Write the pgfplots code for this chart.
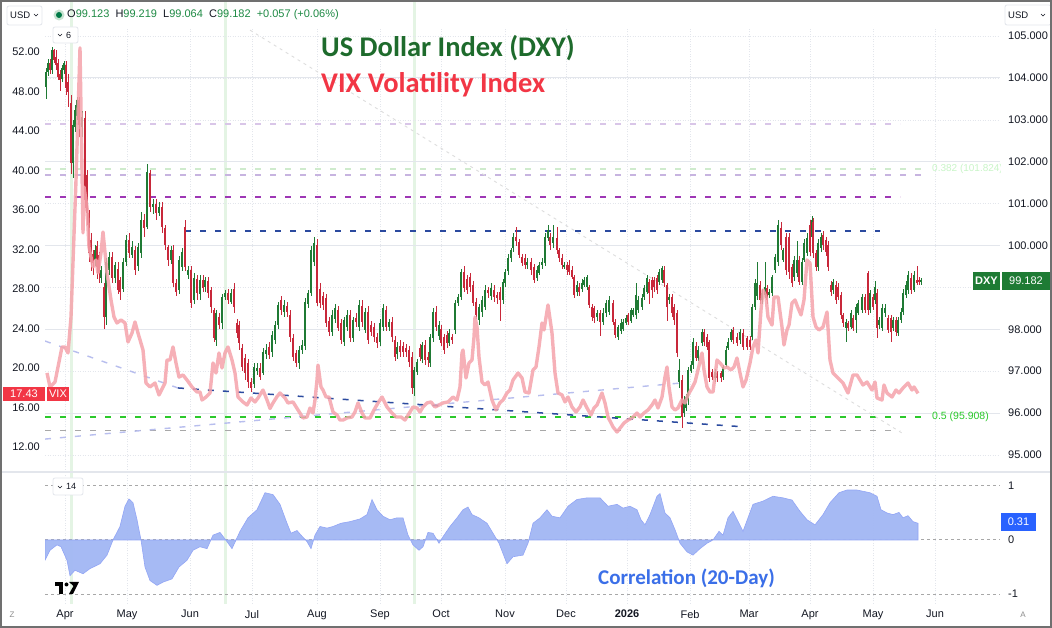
\documentclass[border=0pt]{standalone}
\usepackage{fontspec}
\setmainfont{Liberation Sans}
\newfontfamily\titlefont{Carlito}
\usepackage{pgfplots}
\usepackage{pgfplotstable}
\pgfplotsset{compat=1.18}
\definecolor{tvtext}{HTML}{131722}
\definecolor{upc}{HTML}{1F7A34}
\definecolor{dnc}{HTML}{C8283A}
\definecolor{vixc}{HTML}{F5A3AB}
\definecolor{gridc}{HTML}{E3E6EC}
\definecolor{gbandc}{HTML}{E4F4E4}
\definecolor{titleg}{HTML}{1E6B2C}
\definecolor{titler}{HTML}{F23645}
\definecolor{corrfill}{HTML}{A2B7F4}
\definecolor{corrtxt}{HTML}{3B6FE8}
\definecolor{blueline}{HTML}{2B4A9F}
\definecolor{purpline}{HTML}{9E37B5}
\definecolor{lpurp}{HTML}{D9C6E8}
\definecolor{lpurp2}{HTML}{C7B4E0}
\definecolor{lgreen}{HTML}{CFEBCD}
\definecolor{greenline}{HTML}{2BC92B}
\definecolor{grayline}{HTML}{A8A8A8}
\definecolor{lavline}{HTML}{B8BEEE}
\definecolor{faintline}{HTML}{DDDDDD}
\definecolor{tvblue}{HTML}{2962FF}
\definecolor{tvgreenbox}{HTML}{1E7B34}
\definecolor{tvredbox}{HTML}{F23645}
\definecolor{ohlcg}{HTML}{1E8A44}
\definecolor{framec}{HTML}{707070}

\pgfplotstableread{
x o h l c
46 103.78 104.24 103.50 104.14
48 104.14 104.45 104.05 104.36
50 104.36 104.45 104.10 104.19
52 104.20 104.75 104.10 104.67
54 104.67 104.70 104.35 104.43
56 104.50 104.67 104.20 104.31
58 104.35 104.45 103.95 104.02
60 104.10 104.20 103.70 103.95
62 103.98 104.30 103.90 104.24
64 104.20 104.40 104.10 104.36
66 104.31 104.40 103.60 103.76
68 103.90 104.10 103.30 103.66
71 103.40 103.60 101.70 101.97
73 101.97 103.00 101.60 102.88
75 102.83 103.35 102.70 103.23
77 103.10 103.55 103.00 103.47
79 103.47 103.55 102.60 102.88
82 102.83 103.20 102.60 103.07
85 103.04 103.20 100.90 101.09
87 101.68 101.80 100.50 100.78
89 100.78 100.85 99.60 99.82
91 100.13 100.30 99.40 99.61
93 99.80 99.90 99.30 99.58
95 99.65 100.00 99.50 99.89
97 100.00 100.10 99.20 99.49
99 99.77 99.85 99.10 99.34
101 99.22 99.50 99.10 99.42
104 99.01 99.10 98.00 98.29
106 98.30 99.70 98.10 99.61
109 99.42 99.85 99.30 99.73
112 99.73 99.85 99.10 99.22
115 99.22 99.60 99.10 99.53
118 99.45 99.60 98.85 98.94
120 99.18 99.25 98.70 98.89
123 98.95 99.70 98.90 99.61
126 99.60 100.25 99.50 100.13
129 100.13 100.30 99.70 99.82
132 99.77 100.10 99.70 99.96
135 99.90 100.00 99.30 99.42
138 99.50 100.05 99.40 99.96
141 99.82 100.80 99.70 100.61
144 100.61 100.75 100.20 100.42
147 100.45 101.95 100.40 101.75
150 101.73 101.80 100.80 100.92
153 100.92 101.10 100.75 101.00
156 101.00 101.10 100.60 100.78
159 100.78 101.05 100.70 100.92
162 100.92 101.05 100.30 100.44
165 100.42 100.50 99.90 100.01
168 99.96 100.00 99.50 99.65
171 99.65 100.00 99.55 99.89
173 99.89 100.00 99.00 99.11
176 99.11 99.20 98.80 98.89
179 98.94 99.75 98.85 99.65
182 99.49 99.95 99.40 99.84
185 100.45 100.60 99.40 99.49
188 99.30 99.50 99.20 99.42
191 99.42 99.50 98.50 98.63
194 98.70 99.35 98.60 99.22
197 99.20 99.30 98.70 98.87
200 98.85 99.30 98.70 99.18
203 99.18 99.30 98.90 98.99
205 99.00 99.25 98.90 99.18
208 99.15 99.25 98.75 98.87
211 98.94 99.00 98.40 98.53
214 98.45 98.50 97.70 97.79
216 97.74 98.45 97.60 98.39
219 98.30 98.40 98.00 98.10
222 98.15 98.85 98.00 98.77
225 98.77 98.95 98.70 98.87
228 98.87 98.95 98.60 98.70
231 98.65 98.95 98.60 98.87
234 98.95 99.10 98.40 98.53
237 98.15 98.25 97.80 97.91
239 98.10 98.20 97.50 97.67
242 97.55 97.65 97.00 97.10
245 97.32 97.40 96.80 96.96
248 97.20 97.30 96.60 96.74
251 96.74 96.85 96.50 96.60
254 96.70 97.20 96.60 97.10
257 97.00 97.20 96.90 97.08
260 97.08 97.20 96.80 96.87
263 96.96 97.55 96.90 97.46
266 97.40 97.65 97.30 97.51
269 97.58 97.70 97.30 97.39
272 97.45 97.95 97.35 97.86
275 97.74 98.20 97.65 98.10
278 98.10 98.65 98.00 98.58
281 98.70 98.80 98.35 98.46
284 98.41 98.70 98.30 98.58
287 98.55 98.65 98.30 98.41
290 98.34 98.45 97.70 97.82
293 97.79 97.90 97.25 97.34
296 97.43 97.50 97.10 97.20
299 97.20 97.60 97.05 97.51
302 97.50 97.75 97.40 97.63
305 97.60 98.75 97.50 98.65
308 98.60 98.95 98.50 98.87
311 98.87 100.00 98.80 99.89
314 99.60 100.20 99.50 100.06
317 100.00 100.15 98.55 98.63
320 98.95 99.10 98.50 98.63
323 98.80 98.90 98.45 98.58
326 98.75 98.85 98.05 98.15
329 98.20 98.30 97.85 97.94
332 97.94 98.45 97.85 98.34
335 98.25 98.60 98.15 98.50
338 98.45 98.55 97.95 98.03
341 98.15 98.25 97.65 97.74
344 97.70 98.30 97.60 98.22
347 98.05 98.45 97.95 98.34
350 98.34 98.45 97.70 97.79
353 97.80 98.30 97.70 98.22
356 98.27 98.40 98.05 98.17
359 98.05 98.70 97.95 98.58
362 98.55 98.70 98.05 98.17
365 97.98 98.50 97.90 98.41
368 98.41 98.55 97.65 97.74
371 98.10 98.20 97.85 97.94
374 98.05 98.15 97.70 97.82
377 97.82 97.90 97.55 97.67
380 97.70 98.25 97.60 98.15
383 98.05 98.60 97.95 98.51
386 98.45 98.55 97.95 98.05
389 98.05 98.25 97.95 98.17
392 98.17 98.30 97.70 97.82
395 97.74 97.85 97.25 97.34
397 97.40 97.70 97.30 97.58
400 97.60 97.75 97.35 97.46
403 97.60 97.70 97.35 97.45
406 97.55 97.65 97.35 97.46
409 97.50 97.60 97.10 97.22
412 97.34 97.45 96.45 96.60
414 96.60 97.10 96.40 97.03
417 96.98 97.30 96.90 97.22
420 97.55 97.65 97.25 97.34
422 97.30 97.70 97.20 97.63
425 97.63 97.75 97.15 97.27
428 97.35 97.45 97.10 97.27
430 97.20 97.90 97.10 97.82
433 97.80 98.50 97.70 98.41
436 98.41 98.55 97.95 98.05
439 97.85 98.20 97.75 98.10
441 98.00 98.10 97.60 97.67
444 97.82 97.90 97.40 97.51
447 97.86 97.95 97.55 97.67
449 97.67 98.00 97.60 97.91
452 97.82 97.90 97.65 97.74
455 97.98 98.70 97.90 98.63
458 98.63 98.85 98.55 98.77
461 98.77 99.45 98.70 99.37
464 99.37 99.50 98.90 98.99
467 99.20 99.30 98.85 98.94
470 99.25 99.35 98.90 99.01
473 99.06 99.15 98.55 98.63
476 98.65 98.75 98.25 98.34
479 98.22 98.60 98.10 98.53
482 98.41 98.80 98.30 98.70
485 98.53 99.05 98.45 98.94
488 98.94 99.00 98.75 98.87
491 98.80 99.10 98.70 98.99
494 98.95 99.05 98.65 98.77
497 98.82 98.90 98.60 98.75
500 98.90 99.00 98.20 98.70
503 98.70 99.20 98.60 99.13
505 99.10 99.45 99.00 99.37
508 99.40 99.80 99.30 99.70
511 99.70 99.95 99.60 99.89
513 99.94 100.30 99.85 100.20
516 100.20 100.45 100.00 100.10
519 100.08 100.15 99.70 99.77
522 99.73 99.80 99.50 99.58
525 99.70 99.80 99.45 99.53
527 99.53 99.70 99.45 99.61
531 99.61 99.70 99.30 99.42
534 99.49 99.55 99.10 99.18
537 99.22 99.50 99.15 99.42
539 99.35 99.60 99.30 99.53
542 99.53 99.70 99.45 99.61
545 99.58 100.30 99.50 100.20
548 100.18 100.50 100.10 100.37
550 100.20 100.30 99.90 100.01
553 100.06 100.50 99.95 100.20
557 100.18 100.45 99.80 99.89
559 99.89 99.95 99.60 99.70
562 99.70 99.80 99.45 99.53
564 99.50 99.60 99.45 99.53
567 99.53 99.60 99.30 99.42
569 99.53 99.65 99.30 99.37
572 99.42 99.50 99.20 99.25
574 99.25 99.30 98.75 98.82
577 98.89 99.15 98.80 99.06
579 99.01 99.10 98.80 98.89
582 98.95 99.20 98.90 99.11
584 99.06 99.25 99.00 99.18
587 99.01 99.30 98.95 99.25
589 99.00 99.05 98.50 98.58
592 98.53 98.60 98.20 98.29
594 98.50 98.55 98.15 98.27
597 98.29 98.45 98.20 98.39
600 98.39 98.45 97.85 98.17
603 98.17 98.50 98.10 98.39
606 98.39 98.70 98.30 98.63
609 98.41 98.80 98.35 98.70
613 98.63 98.70 98.10 98.17
615 98.17 98.25 97.80 97.86
618 97.82 98.10 97.75 98.05
621 97.95 98.25 97.90 98.15
623 98.00 98.25 97.95 98.17
626 98.15 98.35 98.10 98.27
628 98.34 98.40 98.10 98.17
631 98.20 98.50 98.15 98.46
633 98.34 98.50 98.30 98.46
636 98.34 99.10 98.25 98.82
638 98.46 98.80 98.40 98.70
642 98.53 98.85 98.45 98.75
644 98.77 99.05 98.70 98.99
647 98.89 99.30 98.85 99.22
649 99.13 99.20 98.60 98.87
652 99.18 99.25 98.75 98.94
654 99.18 99.25 98.90 99.01
657 99.22 99.30 98.85 98.94
659 99.13 99.45 99.05 99.37
662 99.18 99.50 99.10 99.46
664 99.42 99.50 99.00 99.11
667 99.06 99.10 98.20 98.53
669 98.70 98.85 98.60 98.77
672 98.77 98.85 98.30 98.39
674 98.53 98.60 98.10 98.22
677 98.39 98.45 97.35 97.43
679 96.74 97.30 96.60 97.03
682 96.79 96.90 95.65 95.91
684 96.00 96.40 95.90 96.31
686 96.12 96.45 96.05 96.38
688 96.31 97.10 96.20 97.03
691 97.00 97.25 96.95 97.15
693 97.15 97.80 97.05 97.70
696 97.60 97.70 97.25 97.32
698 97.32 97.60 97.25 97.51
702 97.67 98.00 97.60 97.94
704 97.94 98.00 97.60 97.70
707 97.82 97.90 97.50 97.58
709 97.70 97.75 96.75 96.84
712 96.98 97.05 96.80 96.86
715 96.84 97.05 96.75 96.98
717 96.96 97.00 96.75 96.84
721 96.96 97.00 96.75 96.84
723 96.86 97.15 96.80 97.10
726 97.15 97.60 97.10 97.51
728 97.55 97.80 97.50 97.70
731 97.74 98.00 97.70 97.94
733 97.98 98.05 97.65 97.74
737 97.82 97.90 97.60 97.67
740 97.74 98.00 97.65 97.94
743 97.91 98.00 97.50 97.58
747 97.79 97.85 97.50 97.58
750 97.74 97.85 97.50 97.58
752 97.82 98.60 97.75 98.53
755 98.53 99.20 98.45 99.11
757 98.80 99.60 98.70 99.11
760 99.06 99.15 98.60 98.70
762 98.70 98.95 98.60 98.87
765 98.82 99.60 98.75 99.01
767 98.99 99.05 98.60 98.70
769 98.82 98.95 98.75 98.89
772 98.87 99.30 98.80 99.25
775 99.42 99.80 99.35 99.73
778 99.61 100.60 99.50 100.49
781 100.42 100.55 99.90 100.01
783 99.65 99.95 99.60 99.89
786 100.20 100.30 99.30 99.42
789 100.20 100.30 99.20 99.37
792 99.49 99.55 99.00 99.11
794 99.25 99.75 99.15 99.65
797 99.34 100.10 99.25 99.65
799 99.65 99.75 99.05 99.13
802 99.13 99.70 99.05 99.61
804 99.65 100.15 99.60 100.06
807 99.82 100.30 99.75 100.18
810 100.49 100.60 99.75 99.84
812 100.20 100.70 100.10 100.61
813 100.55 100.65 99.70 99.82
816 99.82 99.90 99.40 99.49
818 99.49 100.15 99.40 100.06
821 99.94 100.30 99.85 100.20
823 100.25 100.35 99.90 100.01
826 100.13 100.20 99.75 99.84
828 100.01 100.10 99.40 99.49
831 99.06 99.15 98.80 98.89
833 98.94 99.20 98.85 99.13
836 99.06 99.15 98.60 98.70
838 99.01 99.10 98.70 98.77
841 98.82 98.90 98.25 98.34
843 98.34 98.40 98.05 98.15
846 98.03 98.25 97.70 98.17
848 98.15 98.20 97.95 98.03
851 98.05 98.45 98.00 98.39
853 98.27 98.35 97.95 98.03
856 98.22 98.60 97.90 98.53
858 98.39 98.70 98.35 98.63
862 98.46 98.85 98.40 98.77
865 98.77 98.85 98.40 98.46
868 99.34 99.40 98.35 98.46
870 98.46 98.95 98.40 98.87
873 98.77 98.85 98.45 98.53
875 98.70 99.15 98.60 99.01
877 98.87 98.95 97.80 98.03
879 98.10 98.30 98.00 98.22
882 98.03 98.60 97.95 98.51
885 98.39 98.60 98.30 98.51
888 98.27 98.35 97.90 97.98
891 98.27 98.35 97.70 97.94
893 98.03 98.30 97.95 98.22
896 98.22 98.30 97.85 97.94
898 97.91 98.30 97.85 98.22
901 98.22 98.50 98.15 98.41
903 98.41 98.95 98.35 98.87
906 98.82 99.15 98.75 99.06
908 98.94 99.40 98.85 99.30
911 99.22 99.35 98.85 98.94
914 98.94 99.40 98.90 99.30
917 99.18 99.50 99.05 99.11
919 99.18 99.25 99.05 99.13
921 99.123 99.219 99.064 99.182
}\dxy

\pgfplotstableread{
x v
47 19.5
50 18.08
55 18.58
58 20.1
62 22.13
65 22.13
68 21.52
71 25.16
76 39.0
80 52.41
83 33.67
84 38.33
87 36.3
89 32.25
93 30.23
96 30.94
98 29.62
101 31.65
103 33.77
107 29.62
111 26.89
114 25.16
117 24.56
121 24.86
125 24.56
128 22.63
132 23.54
135 24.66
138 23.54
143 21.82
146 18.48
150 18.08
155 18.48
159 17.27
163 18.08
165 18.48
167 20.81
170 20.81
173 22.13
176 20.51
179 19.09
183 19.29
187 18.78
192 18.08
197 17.57
200 17.57
202 16.76
206 17.06
210 17.47
213 20.51
216 19.49
219 21.52
222 20.0
225 21.52
228 22.13
232 20.81
235 19.49
238 17.06
243 16.56
247 16.25
251 16.96
255 16.56
258 16.96
263 17.77
267 16.76
270 15.9
273 16.46
277 17.1
280 17.47
285 16.96
288 16.46
293 16.56
298 15.75
303 14.94
307 15.04
310 15.95
313 15.44
315 16.76
317 18.78
318 20.3
321 18.08
323 17.77
326 17.06
329 17.06
333 15.54
337 15.24
340 14.73
343 14.73
347 14.94
352 15.04
355 15.54
358 16.46
362 15.44
365 14.94
370 14.94
374 15.75
378 16.46
382 17.06
387 16.05
392 15.44
396 15.04
401 15.04
405 14.73
410 15.54
413 16.05
417 15.95
420 15.54
423 16.05
427 16.46
431 16.56
435 16.05
439 16.25
443 16.46
448 16.56
453 17.06
457 16.76
460 18.08
462 21.52
463 21.82
466 18.99
469 20.51
472 20.81
474 23.14
475 25.16
477 24.15
479 21.11
482 18.58
485 18.28
488 18.58
492 16.76
496 15.75
500 16.5
503 16.76
507 17.47
510 17.77
513 18.78
518 19.49
522 18.99
525 17.57
529 17.47
533 19.8
536 20.1
539 22.13
542 24.56
544 23.85
548 26.38
552 23.54
555 19.49
558 17.47
562 17.27
565 16.56
568 17.06
572 16.05
576 15.54
580 16.05
583 16.76
587 15.95
591 15.24
594 15.95
597 16.25
602 17.47
605 16.46
608 15.04
613 14.03
617 13.52
621 14.03
624 14.43
628 14.73
632 14.94
637 15.44
640 15.04
644 15.44
648 15.75
652 16.25
655 16.76
658 15.95
662 17.06
665 19.09
667 20.1
669 18.08
672 16.05
675 15.75
678 15.95
682 16.76
685 16.46
688 17.27
692 17.97
695 18.58
698 19.8
702 21.52
704 19.8
707 18.08
710 17.57
713 17.57
717 20.81
720 20.51
724 20.0
727 20.1
731 19.8
734 20.1
737 21.01
740 19.49
743 18.08
746 18.78
750 20.51
753 22.13
756 22.84
758 21.52
761 25.87
763 27.9
766 27.19
768 25.16
772 24.35
774 27.19
778 27.19
782 24.15
784 22.33
787 23.85
789 24.35
792 26.58
795 26.89
798 26.08
801 25.37
804 26.89
807 30.94
810 30.63
813 25.16
816 24.15
819 23.85
823 24.15
827 25.67
830 20.81
833 19.49
838 18.99
843 18.48
848 17.47
853 19.29
857 19.29
860 18.78
863 18.28
867 18.58
872 17.77
875 18.58
877 16.96
882 16.76
884 18.28
887 17.47
892 17.06
896 17.77
899 17.47
903 17.97
908 18.48
912 17.77
914 18.08
918 17.43
}\vix

\pgfplotstableread{
x r
45 0
45 -0.375
50 -0.19
57 -0.09
61 -0.125
67 -0.375
70 -0.66
75 -0.56
83 -0.625
90 -0.53
100 -0.44
107 -0.28
113 0
120 0.25
125 0.625
129 0.76
133 0.69
137 0.375
141 0
145 -0.5
150 -0.75
157 -0.84
163 -0.78
172 -0.72
179 -0.5
187 -0.375
193 -0.19
200 -0.125
207 -0.16
213 0.09
220 0.14
227 -0.03
232 -0.16
240 0.16
248 0.41
257 0.56
265 0.875
273 0.84
280 0.66
287 0.31
291 0.125
297 0.175
301 0.09
307 -0.03
311 -0.16
315 0.09
320 0.25
327 0.22
333 0.25
341 0.31
350 0.34
360 0.39
367 0.47
372 0.75
377 0.56
383 0.44
390 0.375
397 0.41
403 0.41
408 0.09
413 -0.09
419 -0.19
423 -0.125
428 0.14
433 0.125
439 -0.06
443 0.06
450 0.25
457 0.41
463 0.56
468 0.61
472 0.47
479 0.41
487 0.31
493 0.125
499 -0.06
503 -0.25
507 -0.44
513 -0.31
523 -0.28
528 -0.06
533 0.31
540 0.41
547 0.56
552 0.44
560 0.41
568 0.625
577 0.75
587 0.78
600 0.78
608 0.625
617 0.66
623 0.59
630 0.625
637 0.56
641 0.375
645 0.28
650 0.47
657 0.81
660 0.86
665 0.5
670 0.41
675 0.19
680 -0.06
687 -0.22
693 -0.28
700 -0.16
707 -0.06
713 0
719 0.16
723 0.09
728 0.41
733 0.53
739 0.31
743 0.16
748 0.41
753 0.66
763 0.72
773 0.81
783 0.78
792 0.74
800 0.53
807 0.375
815 0.28
823 0.47
830 0.69
839 0.875
847 0.925
857 0.925
870 0.875
877 0.81
881 0.56
887 0.5
893 0.47
899 0.51
903 0.41
908 0.45
913 0.34
918 0.31
918 0
}\corr

\begin{document}
\begin{tikzpicture}[x=1pt,y=1pt]
\path[use as bounding box, fill=white] (0,0) rectangle (1052,628);
% green vertical bands
\fill[gbandc] (69.5,24) rectangle (72.5,628);
\fill[gbandc] (223.5,24) rectangle (226.5,628);
\fill[gbandc] (412.5,24) rectangle (415.5,628);
% separator
\draw[gridc, line width=1.2pt] (0,156) -- (1052,156);

% ---------------- main DXY axis
\begin{axis}[
  at={(45pt,158pt)}, anchor=south west, scale only axis,
  width=955pt, height=442pt,
  xmin=45, xmax=1000, ymin=94.642, ymax=105.191,
  axis line style={draw=none}, major tick length=0pt, minor tick length=0pt,
  xtick={65,127,190,252,317,380,441,505,566,627,690,749,810,873,935},
  xticklabels={},
  xmajorgrids, x grid style={gridc, dash pattern=on 1pt off 1.5pt},
  ytick={95,96,97,98,100,101,102,103,104,105}, yticklabel pos=right,
  ymajorgrids, y grid style={gridc, dash pattern=on 1pt off 1.5pt},
  extra y ticks={96,98,100,102,104}, extra y tick labels={},
  extra y tick style={ymajorgrids, y grid style={gridc, solid, line width=0.8pt}},
  yticklabel style={anchor=west, inner sep=0pt, xshift=8pt, font=\fontsize{11}{13}\selectfont, text=tvtext,
    /pgf/number format/fixed, /pgf/number format/fixed zerofill, /pgf/number format/precision=3,
    /pgf/number format/assume math mode=true},
]
% grid line at 99 (its label is covered by the price box)
\addplot[gridc, dash pattern=on 1pt off 1.5pt, forget plot] coordinates {(45,99) (1000,99)};
% horizontal levels
\addplot[lpurp, line width=1.3pt, dash pattern=on 6pt off 9pt] coordinates {(45,102.90) (900,102.90)};
\addplot[lgreen, line width=1.3pt, dash pattern=on 6pt off 9pt] coordinates {(45,101.824) (926,101.824)};
\addplot[lpurp2, line width=1.3pt, dash pattern=on 6pt off 9pt] coordinates {(45,101.68) (928,101.68)};
\addplot[purpline, line width=1.5pt, dash pattern=on 6pt off 9pt] coordinates {(45,101.16) (900,101.16)};
\addplot[blueline, line width=1.5pt, dash pattern=on 6pt off 9pt] coordinates {(185,100.35) (880,100.35)};
\addplot[greenline, line width=1.5pt, dash pattern=on 6pt off 9pt] coordinates {(45,95.908) (926,95.908)};
\addplot[grayline, line width=1.4pt, dash pattern=on 6pt off 9pt] coordinates {(45,95.58) (900,95.58)};
% trend lines
\addplot[faintline, line width=0.9pt, dash pattern=on 3pt off 4pt] coordinates {(250,105.14) (905,95.48)};
\addplot[lavline, line width=1.4pt, dash pattern=on 6pt off 9pt] coordinates {(45,97.72) (178,96.60)};
\addplot[lavline, line width=1.4pt, dash pattern=on 6pt off 9pt] coordinates {(45,95.38) (682,96.72)};
\addplot[blueline, line width=1.5pt, dash pattern=on 6pt off 9pt] coordinates {(178,96.60) (745,95.67)};
% candles: wicks
\addplot[draw=none, mark=none, forget plot,
  restrict expr to domain={\thisrow{c}-\thisrow{o}}{0:50},
  error bars/.cd, y dir=both, y explicit, error mark=none,
  error bar style={draw=upc, line width=0.9pt, solid}]
  table[x=x, y expr={(\thisrow{h}+\thisrow{l})/2}, y error expr={(\thisrow{h}-\thisrow{l})/2}] {\dxy};
\addplot[draw=none, mark=none, forget plot,
  restrict expr to domain={\thisrow{c}-\thisrow{o}}{-50:-0.00001},
  error bars/.cd, y dir=both, y explicit, error mark=none,
  error bar style={draw=dnc, line width=0.9pt, solid}]
  table[x=x, y expr={(\thisrow{h}+\thisrow{l})/2}, y error expr={(\thisrow{h}-\thisrow{l})/2}] {\dxy};
% candles: bodies
\addplot[draw=none, mark=none, forget plot,
  restrict expr to domain={\thisrow{c}-\thisrow{o}}{0:50},
  error bars/.cd, y dir=both, y explicit, error mark=none,
  error bar style={draw=upc, line width=2.3pt, solid}]
  table[x=x, y expr={(\thisrow{o}+\thisrow{c})/2}, y error expr={max(abs(\thisrow{c}-\thisrow{o})/2,0.012)}] {\dxy};
\addplot[draw=none, mark=none, forget plot,
  restrict expr to domain={\thisrow{c}-\thisrow{o}}{-50:-0.00001},
  error bars/.cd, y dir=both, y explicit, error mark=none,
  error bar style={draw=dnc, line width=2.3pt, solid}]
  table[x=x, y expr={(\thisrow{o}+\thisrow{c})/2}, y error expr={max(abs(\thisrow{c}-\thisrow{o})/2,0.012)}] {\dxy};
% fib labels
\node[anchor=west, inner sep=0pt, font=\fontsize{10}{12}\selectfont, text=lgreen!80!green!60!white] at (axis cs:932,101.824) {0.382 (101.824)};
\node[anchor=west, inner sep=0pt, font=\fontsize{10.5}{12}\selectfont, text=greenline] at (axis cs:932,95.908) {0.5 (95.908)};
\end{axis}

% ---------------- VIX overlay axis
\begin{axis}[
  at={(45pt,158pt)}, anchor=south west, scale only axis,
  width=955pt, height=442pt,
  xmin=45, xmax=1000, ymin=9.671, ymax=54.430,
  axis line style={draw=none}, major tick length=0pt,
  xtick=\empty,
  ytick={12,16,...,52}, yticklabel pos=left,
  yticklabel style={anchor=east, inner sep=0pt, xshift=-5pt, font=\fontsize{11}{13}\selectfont, text=tvtext,
    /pgf/number format/fixed, /pgf/number format/fixed zerofill, /pgf/number format/precision=2,
    /pgf/number format/assume math mode=true},
]
\addplot[vixc, line width=3.4pt, line join=round, opacity=0.85, mark=none] table[x=x, y=v] {\vix};
\end{axis}

% ---------------- correlation axis
\begin{axis}[
  at={(45pt,24pt)}, anchor=south west, scale only axis,
  width=955pt, height=130pt,
  xmin=45, xmax=1000, ymin=-1.185, ymax=1.222,
  axis line style={draw=none}, major tick length=0pt,
  xtick={65,127,190,252,317,380,441,505,566,627,690,749,810,873,935},
  xticklabels={Apr,May,Jun,Jul,Aug,Sep,Oct,Nov,Dec,\textbf{2026},Feb,Mar,Apr,May,Jun},
  xticklabel style={anchor=north, inner sep=0pt, yshift=-6pt, font=\fontsize{11}{13}\selectfont, text=tvtext},
  xmajorgrids, x grid style={gridc, dash pattern=on 1pt off 1.5pt},
  ytick={-1,0,1}, yticklabels={-1,0,1}, yticklabel pos=right,
  yticklabel style={anchor=west, inner sep=0pt, xshift=8pt, font=\fontsize{11}{13}\selectfont, text=tvtext},
]
\addplot[grayline, line width=1pt, dash pattern=on 3pt off 3pt] coordinates {(45,1) (1000,1)};
\addplot[grayline, line width=1pt, dash pattern=on 3pt off 3pt] coordinates {(45,0) (1000,0)};
\addplot[grayline, line width=1pt, dash pattern=on 3pt off 3pt] coordinates {(45,-1) (1000,-1)};
\addplot[fill=corrfill, draw=corrfill!90!blue, line width=0.6pt, fill opacity=0.95] table[x=x, y=r] {\corr} -- cycle;
\end{axis}

% ---------------- titles & labels
\node[anchor=west, inner sep=0pt, font=\titlefont\bfseries\fontsize{28.5}{32}\selectfont, text=titleg] at (321,580) {US Dollar Index (DXY)};
\node[anchor=west, inner sep=0pt, font=\titlefont\bfseries\fontsize{28.5}{32}\selectfont, text=titler] at (321,543) {VIX Volatility Index};
\node[anchor=west, inner sep=0pt, font=\titlefont\bfseries\fontsize{21}{24}\selectfont, text=corrtxt] at (598,50) {Correlation (20-Day)};

% top toolbar
\draw[gridc, line width=0.8pt, rounded corners=2pt] (7,603) rectangle (42,622);
\node[anchor=west, inner sep=0pt, font=\fontsize{9.5}{11}\selectfont, text=tvtext] at (10,612.5) {USD};
\draw[tvtext, line width=0.6pt] (34,614) -- (36,612) -- (38,614);
\fill[ohlcg!25] (59,613) circle (5.5);
\fill[black!30!teal!80!green] (59,613) circle (3);
\node[anchor=west, inner sep=0pt, font=\fontsize{11}{13}\selectfont] at (67,613)
  {\color{tvtext}O\color{ohlcg}99.123\ \ \color{tvtext}H\color{ohlcg}99.219\ \ \color{tvtext}L\color{ohlcg}99.064\ \ \color{tvtext}C\color{ohlcg}99.182\ \ +0.057 (+0.06\%)};
\draw[gridc, line width=0.8pt, rounded corners=2pt] (1005,603) rectangle (1051,623);
\node[anchor=west, inner sep=0pt, font=\fontsize{9.5}{11}\selectfont, text=tvtext] at (1008,613) {USD};
\draw[tvtext, line width=0.6pt] (1041,614) -- (1043,612) -- (1045,614);
% pane buttons
\draw[gridc, line width=0.8pt, rounded corners=2pt, fill=white] (53,585) rectangle (78,601);
\draw[tvtext, line width=0.6pt] (58,594) -- (60,592) -- (62,594);
\node[anchor=west, inner sep=0pt, font=\fontsize{9}{11}\selectfont, text=tvtext] at (66,593) {6};
\draw[gridc, line width=0.8pt, rounded corners=2pt, fill=white] (53,133) rectangle (83,150);
\draw[tvtext, line width=0.6pt] (58,142) -- (60,140) -- (62,142);
\node[anchor=west, inner sep=0pt, font=\fontsize{9}{11}\selectfont, text=tvtext] at (66,141.5) {14};

% price boxes
\fill[tvredbox] (3,227) rectangle (45,241);
\node[font=\fontsize{11}{13}\selectfont, text=white, inner sep=0pt] at (24,234) {17.43};
\fill[tvredbox] (47,227) rectangle (69,241);
\node[font=\fontsize{11}{13}\selectfont, text=white, inner sep=0pt] at (58,234) {VIX};
\fill[tvgreenbox] (973,338) rectangle (1000,356);
\node[font=\bfseries\fontsize{11}{13}\selectfont, text=white, inner sep=0pt] at (986.5,347) {DXY};
\fill[tvgreenbox] (1002,338) rectangle (1052,356);
\node[font=\fontsize{11}{13}\selectfont, text=white, inner sep=0pt] at (1026,347) {99.182};
\fill[tvblue] (1001,97) rectangle (1036,115);
\node[font=\fontsize{11}{13}\selectfont, text=white, inner sep=0pt] at (1018.5,106) {0.31};

% TV logo
\fill[black] (55,42) rectangle (63,46);
\fill[black] (59,34) rectangle (63,46);
\fill[black] (66.5,43.5) circle (2);
\fill[black] (69,46) -- (79,46) -- (73,34) -- (69,34) -- (73.5,42) -- cycle;

% bottom corners
\node[font=\fontsize{8}{10}\selectfont, text=black!45] at (12,13) {Z};
\node[font=\fontsize{8}{10}\selectfont, text=black!45] at (1023,13) {A};

% frame
\draw[framec, line width=2pt] (1,1) rectangle (1051,627);
\end{tikzpicture}
\end{document}
